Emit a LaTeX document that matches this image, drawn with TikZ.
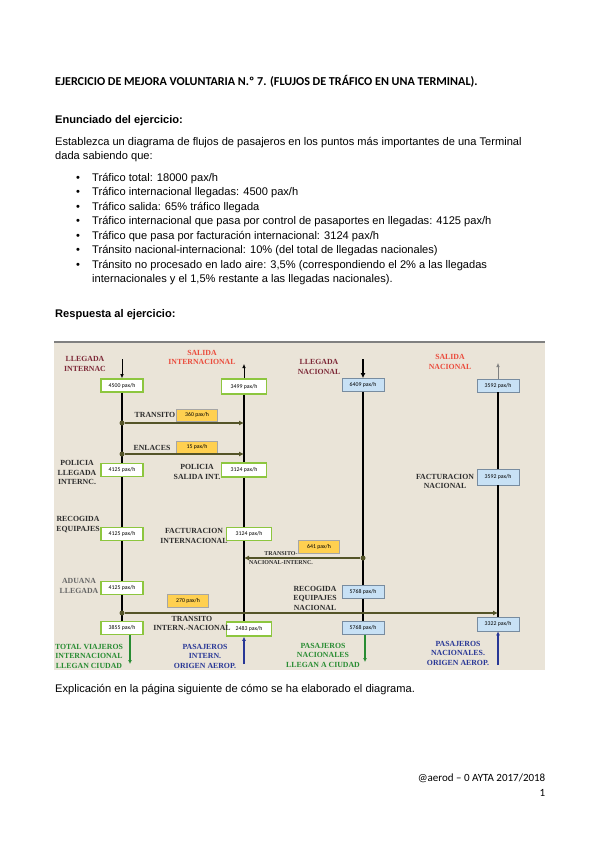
\documentclass[tikz,border=0pt]{standalone}
\usepackage{fontspec}
\setmainfont{Liberation Sans}
\newfontfamily\calfont{Carlito}
\newfontfamily\serfont{Liberation Serif}
\usetikzlibrary{arrows.meta}

\definecolor{paper}{RGB}{234,228,216}
\definecolor{flowolive}{RGB}{84,84,40}
\definecolor{intgreen}{RGB}{141,198,63}
\definecolor{natblue}{RGB}{200,225,245}
\definecolor{natedge}{RGB}{120,140,160}
\definecolor{paxgold}{RGB}{255,208,80}
\definecolor{arrmaroon}{RGB}{125,40,55}
\definecolor{depred}{RGB}{235,75,60}
\definecolor{lblgray}{RGB}{45,45,45}
\definecolor{citygreen}{RGB}{40,140,50}
\definecolor{origblue}{RGB}{40,55,150}

\tikzset{
  body/.style={anchor=base west, inner sep=0pt, font=\fontsize{11.1}{13}\selectfont},
  pax/.style={minimum width=42pt, minimum height=13pt, inner sep=0pt, font=\calfont\fontsize{5.8}{7}\selectfont},
  intbox/.style={pax, draw=intgreen, line width=1.6pt, fill=white},
  natbox/.style={pax, draw=natedge, line width=0.8pt, fill=natblue},
  linkbox/.style={pax, minimum width=41pt, minimum height=12pt, draw=gray!70, line width=0.5pt, fill=paxgold},
  lbl/.style={align=center, inner sep=0pt, text=lblgray, font=\serfont\bfseries\fontsize{7.8}{9.5}\selectfont},
  trunk/.style={line width=2pt, black},
  link/.style={line width=2pt, flowolive, -{Latex[length=5pt,width=5pt]}},
  junc/.style={circle, fill=flowolive, inner sep=0pt, minimum size=5pt},
  feed/.style={line width=0.6pt, -{Latex[length=4pt,width=3.5pt]}},
  outlet/.style={line width=1.2pt, -{Latex[length=4pt,width=4pt]}},
}

\begin{document}
\begin{tikzpicture}[x=1pt,y=-1pt]
\useasboundingbox (0,0) rectangle (599,848);
\fill[white] (0,0) rectangle (599,848);

% page text
\node[body, font=\calfont\bfseries\fontsize{12.1}{14}\selectfont] (title) at (55,85.5)
  {EJERCICIO DE MEJORA VOLUNTARIA N.º 7. (FLUJOS DE TRÁFICO EN UNA TERMINAL).};
\node[body, font=\bfseries\fontsize{11.1}{13}\selectfont] (enun) at (55,124) {Enunciado del ejercicio:};
\node[body] (intro1) at (55,145.5) {Establezca un diagrama de flujos de pasajeros en los puntos más importantes de una Terminal};
\node[body] (intro2) at (55,159.5) {dada sabiendo que:};

\foreach \txt [count=\i] in {
    {Tráfico total: 18000 pax/h},
    {Tráfico internacional llegadas: 4500 pax/h},
    {Tráfico salida: 65\% tráfico llegada},
    {Tráfico internacional que pasa por control de pasaportes en llegadas: 4125 pax/h},
    {Tráfico que pasa por facturación internacional: 3124 pax/h},
    {Tránsito nacional-internacional: 10\% (del total de llegadas nacionales)},
    {Tránsito no procesado en lado aire: 3,5\% (correspondiendo el 2\% a las llegadas}} {
  \node[body] (item\i) at (92,{181+14.5*(\i-1)}) {\txt};
  \node[body, anchor=base] (dot\i) at (78,{181+14.5*(\i-1)}) {•};
}
\node[body] (item7b) at (92,282.5) {internacionales y el 1,5\% restante a las llegadas nacionales).};

\node[body, font=\bfseries\fontsize{11.1}{13}\selectfont] (resp) at (55,317.5) {Respuesta al ejercicio:};

% diagram ground
\fill[paper] (54,342) rectangle (545,670);
\draw[gray, line width=1.5pt] (54,342) -- (545,342);

% flow boxes
\node[intbox] (a0) at (122,385.5) {4500 pax/h};
\node[intbox] (a1) at (122,470) {4125 pax/h};
\node[intbox] (a2) at (122,534) {4125 pax/h};
\node[intbox] (a3) at (122,588) {4125 pax/h};
\node[intbox] (a4) at (122,628) {3855 pax/h};

\node[intbox, minimum width=45pt, minimum height=15pt] (b0) at (244,386.5) {3499 pax/h};
\node[intbox, minimum width=45pt, minimum height=14pt] (b1) at (244,470) {3124 pax/h};
\node[intbox, minimum width=45pt] (b2) at (249,534) {3124 pax/h};
\node[intbox, minimum width=45pt, minimum height=14pt] (b3) at (249,629) {2483 pax/h};

\node[natbox] (c0) at (363,385) {6409 pax/h};
\node[natbox] (c1) at (363,592) {5768 pax/h};
\node[natbox] (c2) at (363,628) {5768 pax/h};

\node[natbox] (d0) at (498,385.5) {3592 pax/h};
\node[natbox, minimum height=16pt] (d1) at (498,477) {3592 pax/h};
\node[natbox, minimum height=14pt] (d2) at (498,624) {3322 pax/h};

\node[linkbox] (y1) at (197,415) {360 pax/h};
\node[linkbox] (y2) at (197,447) {15 pax/h};
\node[linkbox, minimum height=13pt] (y3) at (319,547) {641 pax/h};
\node[linkbox, minimum height=13pt] (y4) at (188,601) {270 pax/h};

% trunks
\draw[trunk] (a0) -- (a1) (a1) -- (a2) (a2) -- (a3) (a3) -- (a4);
\draw[trunk] (b0) -- (b1) (b1.south) -- (b1.south |- b2.north) (b1.south |- b2.south) -- (b1.south |- b3.north);
\draw[trunk] (c0) -- (c1) (c1) -- (c2);
\draw[trunk] (d0) -- (d1) (d1) -- (d2);

% in and out at the top
\coordinate (a-in) at (122,359);
\coordinate (b-out) at (244,364);
\coordinate (c-in) at (363,359);
\coordinate (d-out) at (498,363);
\draw[feed] (a-in) -- (a0);
\draw[feed] (b0.north -| b-out) -- (b-out);
\draw[trunk, -{Latex[length=5pt,width=5pt]}] (c-in) -- (c0);
\draw[feed, gray] (d0) -- (d-out);

% transfers
\node[junc] (j1) at (122,423) {};
\node[junc] (j2) at (122,454) {};
\node[junc] (j3) at (363,558) {};
\node[junc] (j4) at (122,613) {};
\draw[link] (j1) -- (j1 -| b0);
\draw[link] (j2) -- (j2 -| b0);
\draw[link] (j3) -- (j3 -| b0);
\draw[link] (j4) -- (j4 -| d0);

% out at the bottom
\coordinate (a-out) at (130,664);
\coordinate (b-in) at (244,664);
\coordinate (c-out) at (365,662);
\coordinate (d-in) at (498,665);
\draw[outlet, citygreen] (a4.south -| a-out) -- (a-out);
\draw[outlet, origblue] (b-in) -- (b3.south -| b-in);
\draw[outlet, citygreen] (c2.south -| c-out) -- (c-out);
\draw[outlet, origblue] (d-in) -- (d2);

% labels
\node[lbl, text=arrmaroon] (t-ai) at (85,364) {LLEGADA\\INTERNAC};
\node[lbl, text=depred] (t-si) at (202,357.5) {SALIDA\\INTERNACIONAL};
\node[lbl, text=arrmaroon] (t-an) at (319,367) {LLEGADA\\NACIONAL};
\node[lbl, text=depred] (t-sn) at (450,362) {SALIDA\\NACIONAL};
\node[lbl] (t-tr) at (155,415) {TRANSITO};
\node[lbl] (t-en) at (152,448) {ENLACES};
\node[lbl] (t-pl) at (77,472.7) {POLICIA\\LLEGADA\\INTERNC.};
\node[lbl] (t-ps) at (197,472) {POLICIA\\SALIDA INT.};
\node[lbl] (t-fn) at (445,481.7) {FACTURACION\\NACIONAL};
\node[lbl] (t-re) at (78,524.7) {RECOGIDA\\EQUIPAJES};
\node[lbl] (t-fi) at (194,536) {FACTURACION\\INTERNACIONAL};
\node[lbl, font=\serfont\bfseries\fontsize{6}{9}\selectfont] (t-ni) at (281,558) {TRANSITO-\\NACIONAL-INTERNC.};
\node[lbl, text=gray!80!black] (t-ad) at (79,586) {ADUANA\\LLEGADA};
\node[lbl] (t-rn) at (315,598.3) {RECOGIDA\\EQUIPAJES\\NACIONAL};
\node[lbl] (t-in) at (192,623.7) {TRANSITO\\INTERN.-NACIONAL};
\node[lbl, text=citygreen] (t-ci) at (89,656) {TOTAL VIAJEROS\\INTERNACIONAL\\LLEGAN CIUDAD};
\node[lbl, text=origblue] (t-oi) at (205,656) {PASAJEROS\\INTERN.\\ORIGEN AEROP.};
\node[lbl, text=citygreen] (t-cn) at (323,655) {PASAJEROS\\NACIONALES\\LLEGAN A CIUDAD};
\node[lbl, text=origblue] (t-on) at (458,653) {PASAJEROS\\NACIONALES.\\ORIGEN AEROP.};

% below the diagram
\node[body] (expl) at (55,692) {Explicación en la página siguiente de cómo se ha elaborado el diagrama.};
\node[body, anchor=base east, font=\calfont\fontsize{11}{13}\selectfont] (foot) at (545.5,781.5) {@aerod – 0 AYTA 2017/2018};
\node[body, anchor=base east, font=\calfont\fontsize{11}{13}\selectfont] (page) at (545.5,796.5) {1};
\end{tikzpicture}
\end{document}
